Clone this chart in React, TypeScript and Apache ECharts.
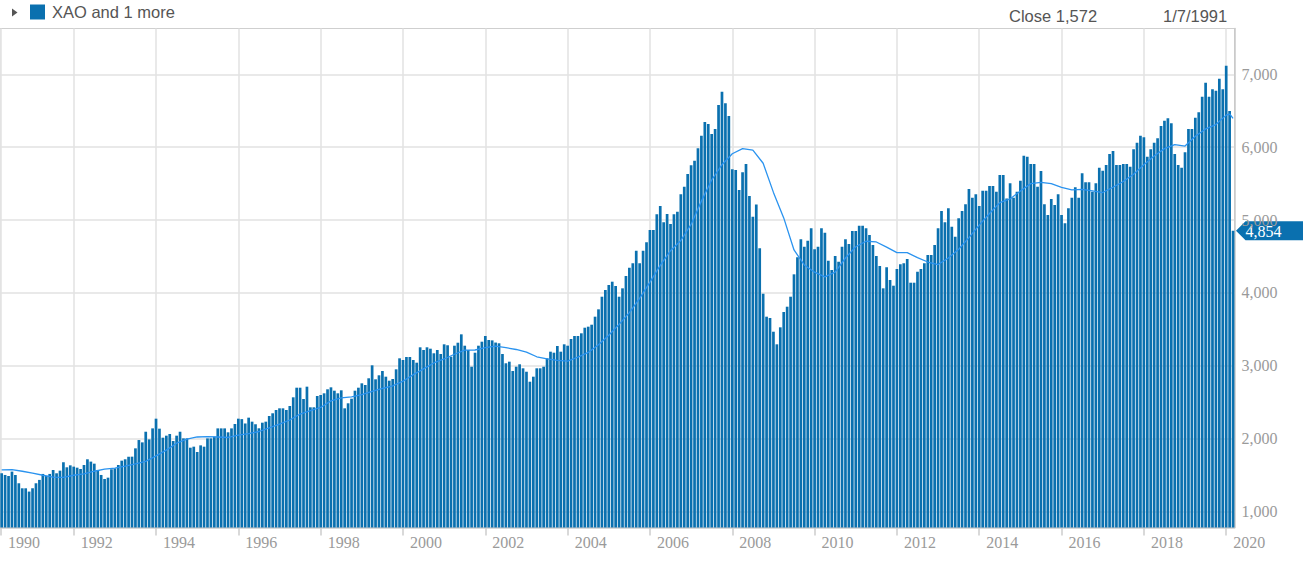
import React, { useEffect, useRef } from "react";
import * as echarts from "echarts";

// Month index 0 = Jan 1990. First bar shown = Apr 1990.
const START_MONTH = 3;

// Monthly closes (XAO), Apr 1990 .. Mar 2020
const closeValues = [
  1527, 1504, 1490, 1550, 1504, 1390, 1321, 1321, 1276,
  1321, 1390, 1436, 1518, 1490, 1518, 1572, 1527, 1563, 1677, 1609, 1636,
  1618, 1604, 1586, 1641, 1719, 1687, 1659, 1563, 1504, 1449, 1467, 1582,
  1595, 1641, 1700, 1719, 1755, 1755, 1869, 1983, 1951, 2097, 1992, 2143,
  2276, 2139, 2015, 2043, 2066, 1970, 2043, 2097, 2006, 2006, 1878, 1892,
  1819, 1910, 1892, 2006, 2006, 2029, 2143, 2143, 2143, 2089, 2143, 2203,
  2276, 2270, 2210, 2290, 2235, 2199, 2144, 2221, 2235, 2313, 2350, 2395,
  2418, 2418, 2395, 2450, 2569, 2701, 2701, 2546, 2715, 2432, 2432, 2587,
  2601, 2624, 2679, 2706, 2660, 2624, 2665, 2418, 2487, 2550, 2660, 2701,
  2761, 2738, 2830, 3008, 2816, 2871, 2930, 2852, 2797, 2820, 2953, 3104,
  3081, 3122, 3122, 3081, 3044, 3255, 3218, 3255, 3236, 3173, 3218, 3163,
  3296, 3283, 3126, 3277, 3318, 3433, 3277, 3218, 2989, 3181, 3277, 3332,
  3410, 3355, 3350, 3320, 3310, 3163, 3036, 3058, 2930, 2989, 3022, 2967,
  2920, 2783, 2852, 2967, 2967, 2989, 3104, 3195, 3181, 3273, 3195, 3296,
  3277, 3369, 3410, 3410, 3447, 3524, 3538, 3565, 3675, 3776, 3949, 4041,
  4110, 4155, 4096, 3949, 4064, 4233, 4347, 4407, 4580, 4407, 4580, 4695,
  4864, 4864, 5079, 5193, 4970, 5084, 4946, 5079, 5115, 5354, 5458, 5632,
  5752, 5815, 5985, 6158, 6346, 6318, 6181, 6250, 6579, 6761, 6602, 6428,
  5697, 5687, 5413, 5655, 5769, 5331, 5047, 5215, 4615, 3990, 3675, 3657,
  3469, 3296, 3529, 3739, 3812, 3949, 4256, 4490, 4737, 4635, 4717, 4888,
  4599, 4635, 4888, 4827, 4443, 4315, 4508, 4429, 4635, 4737, 4672, 4850,
  4850, 4923, 4923, 4888, 4795, 4658, 4508, 4370, 4064, 4352, 4178, 4100,
  4329, 4393, 4407, 4466, 4141, 4141, 4292, 4329, 4407, 4521, 4521, 4658,
  4888, 5125, 4970, 5162, 4909, 4772, 5025, 5125, 5217, 5427, 5307, 5354,
  5193, 5403, 5403, 5468, 5468, 5389, 5618, 5618, 5295, 5505, 5307, 5389,
  5540, 5883, 5870, 5769, 5769, 5458, 5673, 5217, 5070, 5289, 5207, 5354,
  5070, 4956, 5162, 5307, 5450, 5307, 5642, 5518, 5518, 5389, 5505, 5719,
  5678, 5756, 5906, 5948, 5756, 5756, 5769, 5769, 5732, 5971, 6062, 6158,
  6136, 5870, 5971, 6062, 6122, 6291, 6363, 6396, 6327, 5906, 5756, 5719,
  5930, 6250, 6250, 6405, 6478, 6693, 6885, 6693, 6794, 6775, 6940, 6794,
  7118, 6496, 4854,
];

// Moving average line (month index, value)
const maMonths = [
  3, 6, 9, 12, 15, 18, 21, 24, 27, 30, 33, 36, 39, 42, 45, 48, 51, 54, 57, 60,
  63, 66, 69, 72, 75, 78, 81, 84, 87, 90, 93, 96, 99, 102, 105, 108, 111, 114,
  117, 120, 123, 126, 129, 132, 135, 138, 141, 144, 147, 150, 153, 156, 159,
  162, 165, 168, 171, 174, 177, 180, 183, 186, 189, 192, 195, 198, 201, 204,
  207, 210, 213, 216, 219, 222, 225, 228, 231, 234, 237, 240, 243, 246, 249,
  252, 255, 258, 261, 264, 267, 270, 273, 276, 279, 282, 285, 288, 291, 294,
  297, 300, 303, 306, 309, 312, 315, 318, 321, 324, 327, 330, 333, 336, 339,
  342, 345, 348, 351, 354, 357, 360, 361, 362,
];
const maValues = [
  1575, 1578, 1555, 1530, 1500, 1475, 1472, 1500, 1520, 1555, 1585, 1598, 1625,
  1655, 1690, 1765, 1845, 1940, 1995, 2025, 2030, 2025, 2018, 2050, 2070, 2100,
  2150, 2200, 2258, 2340, 2385, 2430, 2520, 2560, 2575, 2605, 2650, 2690, 2725,
  2790, 2880, 2960, 3040, 3095, 3160, 3215, 3218, 3250, 3270, 3250, 3225, 3190,
  3125, 3095, 3075, 3065, 3120, 3185, 3290, 3420, 3570, 3730, 3926, 4150, 4380,
  4580, 4720, 4940, 5260, 5550, 5760, 5910, 5980, 5960, 5780, 5380, 5030, 4590,
  4385, 4285, 4220, 4285, 4480, 4635, 4710, 4700, 4630, 4553, 4553, 4485, 4425,
  4390, 4480, 4600, 4760, 4930, 5090, 5240, 5290, 5400, 5500, 5518, 5500, 5450,
  5415, 5420, 5400, 5378, 5450, 5530, 5630, 5760, 5880, 5980, 6035, 6016, 6150,
  6250, 6310, 6440, 6455, 6396,
];

const yearTicks = [1990, 1992, 1994, 1996, 1998, 2000, 2002, 2004, 2006, 2008, 2010, 2012, 2014, 2016, 2018, 2020];
const yTicks = [1000, 2000, 3000, 4000, 5000, 6000, 7000];
const hoverMonth = 18; // 1 Jul 1991
const hoverDate = "1/7/1991";
const legendText = "XAO and 1 more";

const BAR_COLOR = "#0a70af";
const MA_COLOR = "#2a93ef";
const X_MIN = 2.51;
const X_MAX = 362.42;

const fmt = (v: number) => Math.round(v).toLocaleString("en-US");

export default function App() {
  const ref = useRef<HTMLDivElement>(null);
  useEffect(() => {
    document.body.style.margin = "0";
    const chart = echarts.init(ref.current!, null, { renderer: "svg" });
    const tickVals = yearTicks.map((y) => Math.max((y - 1990) * 12, X_MIN + 0.3));
    const labelFor = (v: number) => {
      const k = tickVals.findIndex((t) => Math.abs(t - v) < 1e-6);
      return k >= 0 ? String(yearTicks[k]) : "";
    };
    const bars = closeValues.map((v, k) => [START_MONTH + k, v]);
    const ma = maMonths.map((m, k) => [m, maValues[k]]);
    const lastClose = closeValues[closeValues.length - 1];
    const hoverClose = closeValues[hoverMonth - START_MONTH];

    const textStyle = (text: string, font: string, fill: string) => ({
      text,
      font,
      fill,
      textVerticalAlign: "middle",
      verticalAlign: "middle",
    });

    chart.setOption({
      animation: false,
      grid: {
        left: 0,
        top: 28.5,
        width: 1234.5,
        height: 499,
        show: true,
        borderColor: "#cfcfcf",
        borderWidth: 1,
        backgroundColor: "transparent",
      },
      xAxis: {
        type: "value",
        min: X_MIN,
        max: X_MAX,
        axisLine: { show: true, lineStyle: { color: "#cccccc", width: 1.5 } },
        axisTick: {
          show: true,
          customValues: tickVals,
          length: 8,
          lineStyle: { color: "#cccccc", width: 1.5 },
        },
        axisLabel: {
          customValues: tickVals,
          formatter: (v: number) => labelFor(v),
          align: "left",
          padding: [0, 0, 0, 7],
          margin: 7,
          color: "#9a9a9a",
          fontFamily: "Liberation Serif",
          fontSize: 16,
        },
        splitLine: { show: true, lineStyle: { color: "#e2e2e2", width: 1.5 } },
      },
      yAxis: {
        type: "value",
        position: "right",
        min: 783.3,
        max: 7628,
        axisLine: { show: true, lineStyle: { color: "#c8c8c8", width: 1.5 } },
        axisTick: { show: false, customValues: yTicks },
        axisLabel: {
          customValues: yTicks,
          formatter: (v: number) => fmt(v),
          margin: 7,
          color: "#9a9a9a",
          fontFamily: "Liberation Serif",
          fontSize: 16,
        },
        splitLine: { show: true, lineStyle: { color: "#e2e2e2", width: 1.5 } },
      },
      series: [
        {
          type: "bar",
          data: bars,
          barWidth: 2.7,
          itemStyle: { color: BAR_COLOR },
          clip: true,
          z: 2,
        },
        {
          type: "line",
          data: ma,
          showSymbol: false,
          symbol: "none",
          lineStyle: { color: MA_COLOR, width: 1.3 },
          clip: true,
          z: 3,
        },
      ],
    });

    // Last-value tag on the right axis, placed through the y scale
    const yPix = chart.convertToPixel({ yAxisIndex: 0 }, lastClose) as number;
    chart.setOption({
      graphic: [
        {
          id: "legendArrow",
          type: "polygon",
          shape: { points: [[12, 8.5], [17.5, 12.5], [12, 16.5]] },
          style: { fill: "#555555" },
        },
        {
          id: "legendSwatch",
          type: "rect",
          shape: { x: 30, y: 4.5, width: 15, height: 15 },
          style: { fill: BAR_COLOR },
        },
        {
          id: "legendText",
          type: "text",
          x: 52,
          y: 12,
          style: textStyle(legendText, '16.5px "Liberation Sans"', "#555555"),
        },
        {
          id: "closeText",
          type: "text",
          x: 1009,
          y: 16,
          style: textStyle("Close " + fmt(hoverClose), '16.5px "Liberation Sans"', "#555555"),
        },
        {
          id: "dateText",
          type: "text",
          x: 1163,
          y: 16,
          style: textStyle(hoverDate, '16.5px "Liberation Sans"', "#555555"),
        },
        {
          id: "lastTag",
          type: "polygon",
          shape: {
            points: [
              [1236, yPix],
              [1245.5, yPix - 9.5],
              [1303, yPix - 9.5],
              [1303, yPix + 9.5],
              [1245.5, yPix + 9.5],
            ],
          },
          style: { fill: BAR_COLOR },
        },
        {
          id: "lastText",
          type: "text",
          x: 1245.5,
          y: yPix + 0.5,
          style: textStyle(fmt(lastClose), '16px "Liberation Serif"', "#ffffff"),
        },
      ],
    });

    return () => chart.dispose();
  }, []);
  return <div ref={ref} style={{ width: 1303, height: 570 }} />;
}
